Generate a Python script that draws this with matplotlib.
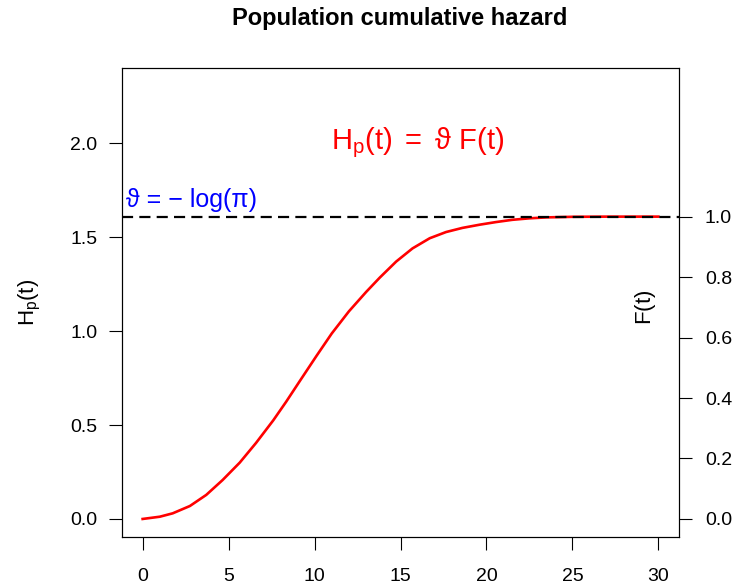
import matplotlib
matplotlib.use("Agg")
import matplotlib.pyplot as plt

plt.rcParams['font.family'] = ['Liberation Sans', 'DejaVu Sans']
plt.rcParams['mathtext.fontset'] = 'custom'
plt.rcParams['mathtext.rm'] = 'Liberation Sans'
plt.rcParams['mathtext.it'] = 'Liberation Sans'
plt.rcParams['mathtext.sf'] = 'Liberation Sans'

# values (time, cumulative hazard)
t = [0, 1, 1.75, 2.75, 3.7, 4.65, 5.65, 6.6, 7.6, 8.35, 9.2, 10.1, 11, 12, 13,
     13.8, 14.75, 15.7, 16.7, 17.65, 18.6, 19.6, 20.55, 21.5, 22.5, 23.5, 25, 27, 30]
H = [0.0, 0.012, 0.03, 0.069, 0.128, 0.207, 0.30, 0.405, 0.525, 0.624, 0.742, 0.866,
     0.987, 1.105, 1.208, 1.285, 1.37, 1.44, 1.494, 1.527, 1.549, 1.566, 1.580, 1.592,
     1.600, 1.605, 1.608, 1.609, 1.609]
theta = 1.609  # -log(0.2)
xticks = [0, 5, 10, 15, 20, 25, 30]
yticks = [0.0, 0.5, 1.0, 1.5, 2.0]
fticks = [0.0, 0.2, 0.4, 0.6, 0.8, 1.0]

fig = plt.figure(figsize=(7.46, 5.86), dpi=100)
ax = fig.add_axes([122/746, 49/586, 557/746, 469/586])

ax.plot(t, H, color='red', lw=1.9)
ax.axhline(theta, color='black', lw=1.6, dashes=(5.0, 2.8))

ax.set_xlim(-1.2, 31.2)
ax.set_ylim(-0.096, 2.40)
ax.set_xticks(xticks)
ax.set_xticklabels([str(v) for v in xticks])
ax.set_yticks(yticks)
ax.set_yticklabels(['%.1f' % v for v in yticks])
ax.tick_params(direction='out', length=9.3, width=0.8, labelsize=14)
ax.tick_params(axis='x', pad=13)
ax.tick_params(axis='y', pad=8.5)

ax2 = ax.twinx()
ax2.set_ylim(ax.get_ylim())
ax2.set_yticks([theta * f for f in fticks])
ax2.set_yticklabels(['%.1f' % f for f in fticks])
ax2.tick_params(direction='out', length=9.3, width=0.8, labelsize=14, pad=9.3)

for a in (ax, ax2):
    for s in a.spines.values():
        s.set_linewidth(0.8)

ax.set_ylabel(r'$\mathrm{H_p(t)}$', fontsize=16)
ax.yaxis.set_label_coords(-0.142, 0.5)
ax.text(0.939, 0.49, r'$\mathrm{F(t)}$', transform=ax.transAxes, rotation=90,
        fontsize=16, ha='center', va='center')

ax.text(0.531, 0.84, r'$\mathrm{H_p(t)\ =\ \vartheta\ F(t)}$', transform=ax.transAxes,
        color='red', fontsize=21, ha='center', va='center')
ax.text(0.007, 0.704, 'ϑ = − log(π)', transform=ax.transAxes,
        color='blue', fontsize=18, ha='left', va='baseline')

fig.text(400/746, 1 - 25/586, 'Population cumulative hazard', fontsize=17,
         fontweight='bold', ha='center', va='baseline')

fig.savefig('out.png', dpi=100)
